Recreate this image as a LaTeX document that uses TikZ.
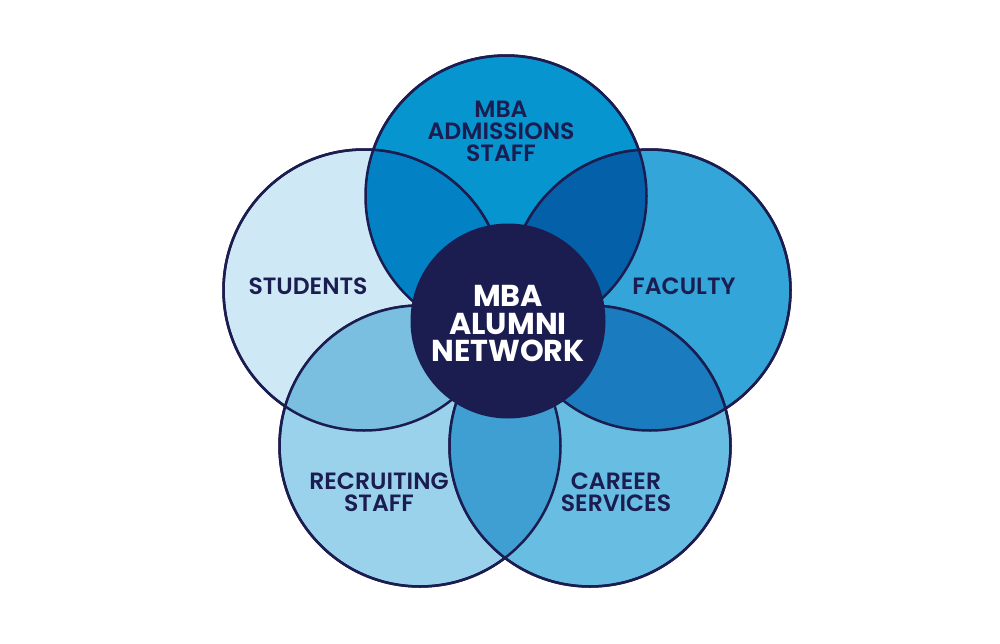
\documentclass[tikz,border=0pt]{standalone}
\usepackage{fontspec}
\setmainfont{Poppins}
\newfontfamily\labelfont{Poppins SemiBold}
\usepackage{xcolor}
\definecolor{navy}{HTML}{1B1C50}
\definecolor{topblue}{HTML}{0795CF}
\definecolor{leftblue}{HTML}{CFE8F6}
\definecolor{rightblue}{HTML}{33A5D8}
\definecolor{lowleftblue}{HTML}{9AD2EC}
\definecolor{lowrightblue}{HTML}{68BDE3}
\definecolor{topleftmix}{HTML}{0282C5}
\definecolor{toprightmix}{HTML}{0560AA}
\definecolor{rightlowmix}{HTML}{1A7BBE}
\definecolor{lowlowmix}{HTML}{3F9FD2}
\definecolor{leftlowmix}{HTML}{7ABFE0}
\tikzset{
  petal/.style={circle, inner sep=0pt, minimum size=5.62cm, draw=navy, line width=0.5mm},
  petaltext/.style={text=navy, align=center, font=\labelfont\fontsize{13.4}{12.6}\selectfont},
  hubtext/.style={text=white, align=center, font=\bfseries\fontsize{17.2}{15.4}\selectfont}
}
\begin{document}
\begin{tikzpicture}
\useasboundingbox (0,0) rectangle (20,12.86);

% petals
\node[petal, fill=topblue] (admissions) at (10.12,8.94) {};
\node[petal, fill=leftblue] (students) at (7.28,7.06) {};
\node[petal, fill=rightblue] (faculty) at (13.00,7.06) {};
\node[petal, fill=lowleftblue] (recruiting) at (8.40,3.94) {};
\node[petal, fill=lowrightblue] (career) at (11.80,3.94) {};

% overlaps
\begin{scope}
\clip (10.12,8.94) circle [radius=2.81];
\fill[topleftmix] (7.28,7.06) circle [radius=2.81];
\fill[toprightmix] (13.00,7.06) circle [radius=2.81];
\end{scope}
\begin{scope}
\clip (13.00,7.06) circle [radius=2.81];
\fill[rightlowmix] (11.80,3.94) circle [radius=2.81];
\end{scope}
\begin{scope}
\clip (11.80,3.94) circle [radius=2.81];
\fill[lowlowmix] (8.40,3.94) circle [radius=2.81];
\end{scope}
\begin{scope}
\clip (8.40,3.94) circle [radius=2.81];
\fill[leftlowmix] (7.28,7.06) circle [radius=2.81];
\end{scope}

% outlines
\foreach \pos in {(10.12,8.94),(7.28,7.06),(13.00,7.06),(8.40,3.94),(11.80,3.94)}
  \draw[navy, line width=0.5mm] \pos circle [radius=2.81];

% hub
\node[circle, inner sep=0pt, minimum size=3.9cm, fill=navy] (hub) at (10.16,6.44) {};
\node[hubtext] (hubtext) at (10.16,6.39) {MBA\\ALUMNI\\NETWORK};

% labels
\node[petaltext] (admissionstext) at (10.02,10.24) {MBA\\ADMISSIONS\\STAFF};
\node[petaltext] (studentstext) at (6.16,7.14) {STUDENTS};
\node[petaltext] (facultytext) at (13.68,7.14) {FACULTY};
\node[petaltext] (recruitingtext) at (7.58,3.01) {RECRUITING\\STAFF};
\node[petaltext] (careertext) at (12.32,3.01) {CAREER\\SERVICES};
\end{tikzpicture}
\end{document}
